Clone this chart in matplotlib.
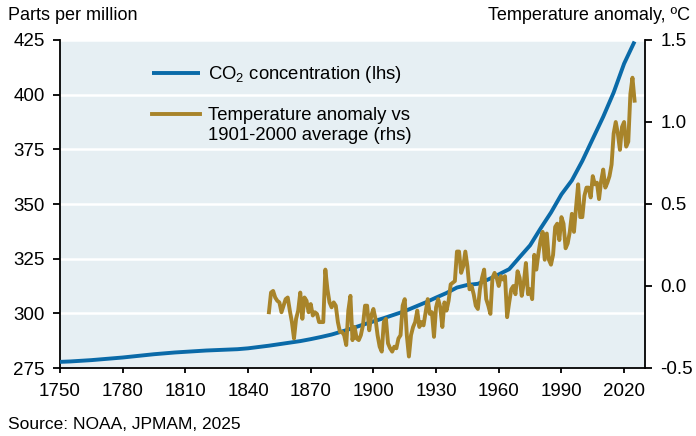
import matplotlib
matplotlib.use("Agg")
import matplotlib.pyplot as plt
import numpy as np
from matplotlib.ticker import FormatStrFormatter
from matplotlib.lines import Line2D

plt.rcParams['font.family'] = ['Liberation Sans', 'DejaVu Sans']
plt.rcParams['mathtext.fontset'] = 'custom'
plt.rcParams['mathtext.rm'] = 'Liberation Sans'
plt.rcParams['mathtext.it'] = 'Liberation Sans:italic'

# CO2 concentration (ppm)
co2_years = [1750, 1755, 1760, 1765, 1770, 1775, 1780, 1785, 1790, 1795,
             1800, 1805, 1810, 1815, 1820, 1825, 1830, 1835, 1840, 1845,
             1850, 1855, 1860, 1865, 1870, 1875, 1880, 1885, 1890, 1895,
             1900, 1905, 1910, 1915, 1920, 1925, 1930, 1935, 1940, 1945,
             1950, 1955, 1960, 1965, 1970, 1975, 1980, 1985, 1990, 1995,
             2000, 2005, 2010, 2015, 2020, 2025]
co2_ppm = [277.8, 278.0, 278.3, 278.6, 279.0, 279.4, 279.8, 280.3, 280.8, 281.3,
           281.7, 282.1, 282.4, 282.7, 283.0, 283.2, 283.4, 283.6, 284.0, 284.6,
           285.2, 285.9, 286.6, 287.3, 288.2, 289.2, 290.3, 291.7, 293.2, 294.8,
           296.3, 297.8, 299.4, 301.0, 303.0, 305.0, 307.2, 309.3, 311.8, 313.0,
           313.5, 315.5, 317.8, 320.2, 325.7, 331.1, 338.8, 346.1, 354.4, 360.8,
           369.7, 379.8, 389.9, 401.0, 414.2, 424.3]

# Temperature anomaly vs 1901-2000 average (deg C), annual 1850-2025
temp_start_year = 1850
temp_anom = [
    -0.16, -0.04, -0.03, -0.07, -0.09, -0.10, -0.16, -0.12, -0.08, -0.07,   # 1850s
    -0.15, -0.22, -0.32, -0.20, -0.15, -0.04, -0.20, -0.07, -0.09, -0.16,   # 1860s
    -0.11, -0.18, -0.16, -0.17, -0.22, -0.22, -0.22, 0.10, -0.02, -0.10,    # 1870s
    -0.13, -0.10, -0.12, -0.22, -0.28, -0.28, -0.30, -0.36, -0.15, -0.06,   # 1880s
    -0.33, -0.25, -0.32, -0.33, -0.30, -0.24, -0.12, -0.12, -0.27, -0.18,   # 1890s
    -0.14, -0.20, -0.30, -0.37, -0.40, -0.22, -0.20, -0.35, -0.38, -0.40,   # 1900s
    -0.37, -0.38, -0.32, -0.30, -0.12, -0.08, -0.30, -0.43, -0.30, -0.25,   # 1910s
    -0.22, -0.15, -0.25, -0.22, -0.24, -0.16, -0.08, -0.17, -0.16, -0.31,   # 1920s
    -0.13, -0.08, -0.13, -0.25, -0.10, -0.15, -0.09, 0.01, 0.02, 0.03,      # 1930s
    0.21, 0.21, 0.08, 0.12, 0.21, 0.12, -0.02, 0.00, -0.05, -0.12,          # 1940s
    -0.14, -0.02, 0.05, 0.10, -0.08, -0.12, -0.17, 0.05, 0.08, 0.05,        # 1950s
    0.00, 0.06, 0.04, 0.06, -0.19, -0.10, -0.02, 0.00, -0.05, 0.09,         # 1960s
    0.05, -0.06, 0.02, 0.14, -0.05, -0.02, -0.08, 0.19, 0.10, 0.20,         # 1970s
    0.28, 0.33, 0.16, 0.32, 0.16, 0.13, 0.19, 0.36, 0.38, 0.28,             # 1980s
    0.42, 0.38, 0.23, 0.26, 0.33, 0.44, 0.33, 0.48, 0.62, 0.42,             # 1990s
    0.42, 0.55, 0.60, 0.60, 0.54, 0.67, 0.62, 0.63, 0.53, 0.64,             # 2000s
    0.71, 0.60, 0.63, 0.67, 0.74, 0.93, 1.00, 0.93, 0.83, 0.97,             # 2010s
    1.00, 0.85, 0.88, 1.17, 1.27, 1.13,                                     # 2020s
]
temp_years = np.arange(temp_start_year, temp_start_year + len(temp_anom))

x_ticks = [1750, 1780, 1810, 1840, 1870, 1900, 1930, 1960, 1990, 2020]
left_ticks = [275, 300, 325, 350, 375, 400, 425]
right_ticks = [-0.5, 0.0, 0.5, 1.0, 1.5]

BLUE = '#0a6aa8'
GOLD = '#a8842a'
BG = '#e6eff3'

fig = plt.figure(figsize=(6.96, 4.36), dpi=100)
ax = fig.add_axes([60/696, 68/436, 585/696, 328/436])
ax.set_facecolor(BG)
ax2 = ax.twinx()

l1, = ax.plot(co2_years, co2_ppm, color=BLUE, lw=2.8, solid_capstyle='butt', zorder=3)
l2, = ax2.plot(temp_years, temp_anom, color=GOLD, lw=2.8, zorder=3)

ax.set_xlim(1750, 2030)
ax.set_ylim(275, 425)
ax2.set_ylim(-0.5, 1.5)
ax.set_xticks(x_ticks)
ax.set_yticks(left_ticks)
ax2.set_yticks(right_ticks)
ax2.yaxis.set_major_formatter(FormatStrFormatter('%.1f'))

ax.yaxis.grid(True, color='white', lw=1.8)
ax.set_axisbelow(True)

for a in (ax, ax2):
    a.spines['top'].set_visible(False)
    for s in ('left', 'right', 'bottom'):
        a.spines[s].set_linewidth(1.3)
        a.spines[s].set_color('black')
    a.tick_params(axis='y', labelsize=13.5, length=5, width=1.3, color='black',
                  direction='out', pad=6)
ax.tick_params(axis='x', labelsize=13.5, length=3.6, width=1.3, color='black',
               direction='out', pad=7)
ax2.spines['left'].set_visible(False)
ax2.spines['bottom'].set_visible(False)
ax.spines['right'].set_visible(False)

blank = Line2D([], [], color='none')
leg = ax2.legend(handles=[l1, blank, l2, blank],
                 labels=['CO$_2$ concentration (lhs)', ' ',
                         'Temperature anomaly vs', '1901-2000 average (rhs)'],
                 loc='upper left', bbox_to_anchor=(0.157, 0.926),
                 frameon=False, fontsize=13.3, borderpad=0, borderaxespad=0,
                 handlelength=2.6, handletextpad=0.43, labelspacing=0.14)

fig.text(8/696, 1 - 15/436, 'Parts per million', fontsize=13, ha='left', va='center')
fig.text(690/696, 1 - 15/436, 'Temperature anomaly, ºC', fontsize=13, ha='right', va='center')
fig.text(8/696, 1 - 424/436, 'Source: NOAA, JPMAM, 2025', fontsize=12.5, ha='left', va='center')

fig.savefig('out.png', dpi=100)
